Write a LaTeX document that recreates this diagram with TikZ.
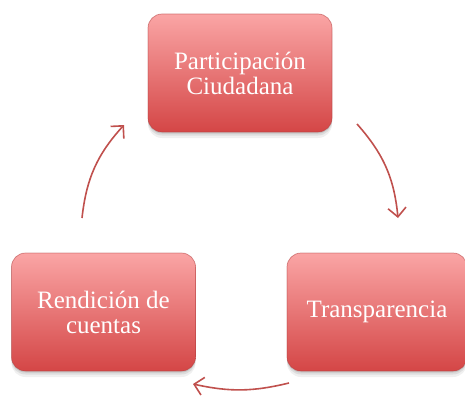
\documentclass[tikz,border=0pt]{standalone}
\usepackage{fontspec}
\setmainfont{Liberation Serif}
\usetikzlibrary{arrows.meta}
\definecolor{arrowred}{RGB}{192,80,77}
\definecolor{boxtop}{RGB}{250,165,165}
\definecolor{boxmid}{RGB}{238,116,116}
\definecolor{boxbot}{RGB}{212,70,70}
\definecolor{boxedge}{RGB}{178,62,62}
\begin{document}
\begin{tikzpicture}[x=1pt,y=1pt,
  cbox/.style={rounded corners=14pt, minimum width=184pt, minimum height=118pt,
    inner sep=0pt, align=center, text=white,
    font=\fontsize{25}{25}\selectfont,
    top color=boxtop, middle color=boxmid, bottom color=boxbot,
    draw=boxedge, draw opacity=0.55, line width=0.7pt,
    preaction={fill=black, opacity=0.06, transform canvas={yshift=-6pt}},
    preaction={fill=black, opacity=0.08, transform canvas={yshift=-3.5pt}},
    preaction={fill=black, opacity=0.10, transform canvas={yshift=-1.5pt}}},
  cycarrow/.style={draw=arrowred, line width=1.6pt,
    -{Straight Barb[length=9pt,width=18pt]}}]
\useasboundingbox (0,0) rectangle (465,397);
\clip (0,0) rectangle (465,397);
\node[cbox] (pa) at (240,324) {Participación\\Ciudadana};
\node[cbox] (rc) at (103.5,85) {Rendición de\\cuentas};
\node[cbox, minimum width=180pt] (tr) at (377,85) {Transparencia};
\coordinate (a1s) at (357,273);
\coordinate (a1e) at (398,179);
\coordinate (a2s) at (289,14);
\coordinate (a2e) at (193,13);
\coordinate (a3s) at (82,179);
\coordinate (a3e) at (124,272);
\draw[cycarrow] (a1s) to[bend left=18] (a1e);
\draw[cycarrow] (a2s) to[bend left=13] (a2e);
\draw[cycarrow] (a3s) to[bend left=18] (a3e);
\end{tikzpicture}
\end{document}
